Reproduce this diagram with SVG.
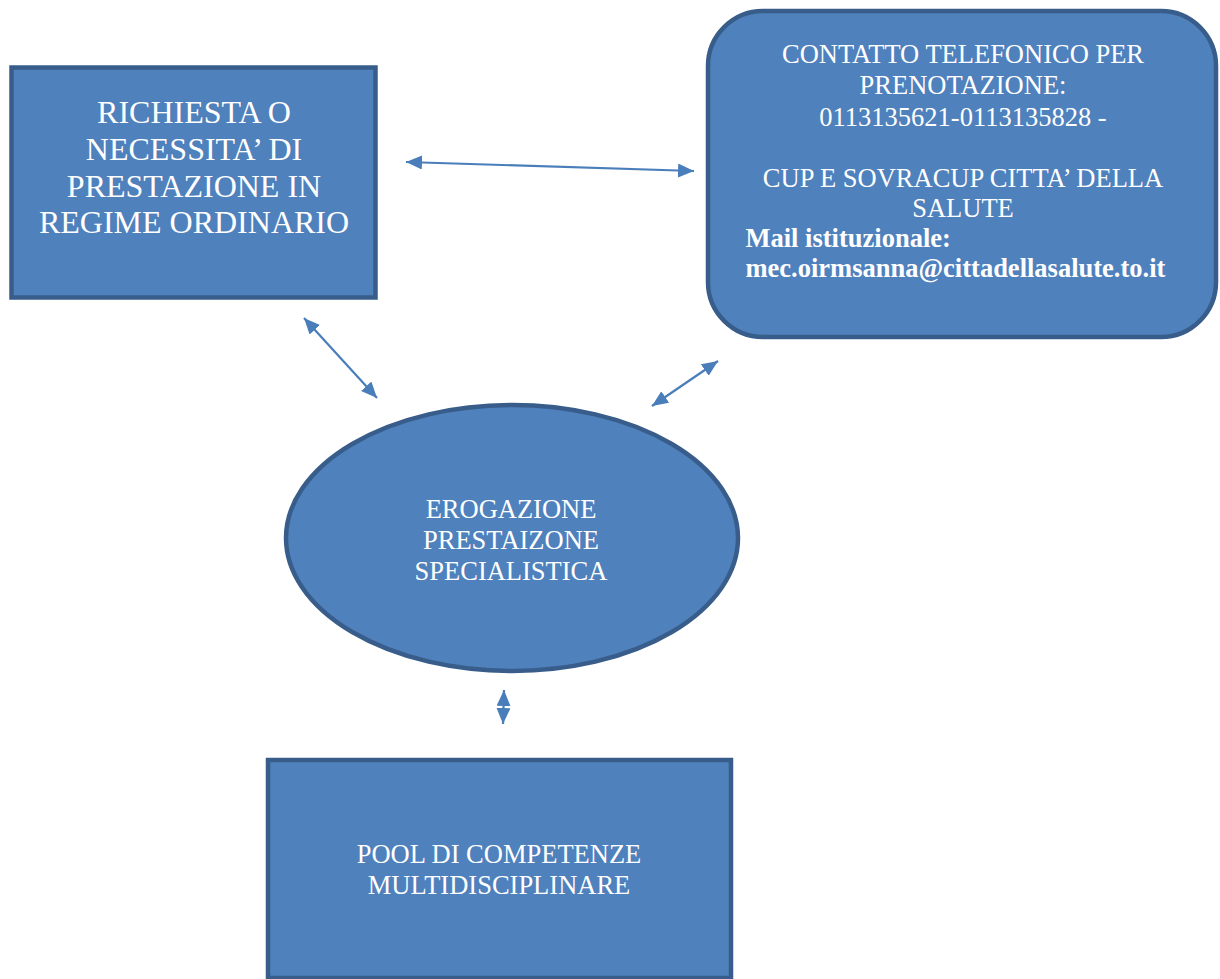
<svg xmlns="http://www.w3.org/2000/svg" width="1220" height="979" viewBox="0 0 1220 979">
<style>
.shape{fill:#4F81BD;stroke:#385D8A;stroke-width:4.5}
.t{font-family:"Liberation Serif","Times New Roman",serif;fill:#FFFFFF;text-anchor:middle}
.big{font-size:32px}
.mid{font-size:26.5px}
.bold{font-weight:bold;text-anchor:start}
.conn{stroke:#4A7EBB;stroke-width:2.2;fill:none;marker-start:url(#arr);marker-end:url(#arr)}
</style>
<defs>
<marker id="arr" markerUnits="userSpaceOnUse" markerWidth="17" markerHeight="15" refX="16" refY="7" orient="auto-start-reverse" viewBox="0 0 17 15">
<path d="M0,0 L16,7 L0,14 z" fill="#4A7EBB"/>
</marker>
</defs>
<rect width="1220" height="979" fill="#FFFFFF"/>
<g id="richiesta">
<rect class="shape" x="11.5" y="67.5" width="364" height="230"/>
<text class="t big" x="194" y="123">RICHIESTA O</text>
<text class="t big" x="194" y="160">NECESSITA’ DI</text>
<text class="t big" x="194" y="197">PRESTAZIONE IN</text>
<text class="t big" x="194" y="233">REGIME ORDINARIO</text>
</g>
<g id="contatto">
<rect class="shape" x="708" y="11" width="508" height="326" rx="55" ry="55"/>
<text class="t mid" x="963" y="63">CONTATTO TELEFONICO PER</text>
<text class="t mid" x="963" y="94">PRENOTAZIONE:</text>
<text class="t mid" x="963" y="126">0113135621-0113135828 -</text>
<text class="t mid" x="963" y="187">CUP E SOVRACUP CITTA’ DELLA</text>
<text class="t mid" x="963" y="217">SALUTE</text>
<text class="t mid bold" x="745.5" y="247">Mail istituzionale:</text>
<text class="t mid bold" x="745.5" y="277">mec.oirmsanna@cittadellasalute.to.it</text>
</g>
<g id="erogazione">
<ellipse class="shape" cx="512" cy="538" rx="226" ry="133"/>
<text class="t mid" x="511" y="518">EROGAZIONE</text>
<text class="t mid" x="511" y="549">PRESTAIZONE</text>
<text class="t mid" x="511" y="580">SPECIALISTICA</text>
</g>
<g id="pool">
<rect class="shape" x="268" y="760" width="463" height="218"/>
<text class="t mid" x="499" y="863">POOL DI COMPETENZE</text>
<text class="t mid" x="499" y="894">MULTIDISCIPLINARE</text>
</g>
<g id="connectors">
<line class="conn" x1="406" y1="162" x2="694" y2="171"/>
<line class="conn" x1="304" y1="318" x2="377" y2="398"/>
<line class="conn" x1="718" y1="361" x2="652" y2="406"/>
<line class="conn" x1="504" y1="690" x2="503" y2="724"/>
</g>
</svg>
